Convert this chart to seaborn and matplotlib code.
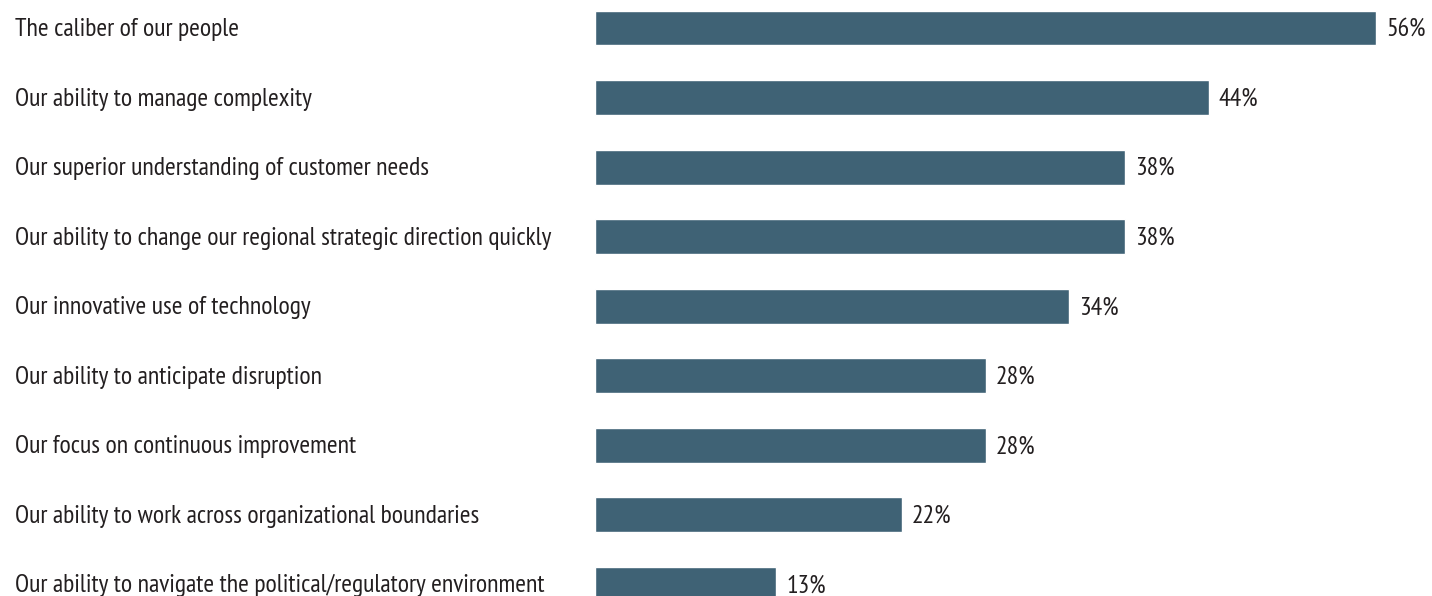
import matplotlib
matplotlib.use("Agg")
import matplotlib.pyplot as plt
import seaborn as sns
import pandas as pd

categories = [
    "The caliber of our people",
    "Our ability to manage complexity",
    "Our superior understanding of customer needs",
    "Our ability to change our regional strategic direction quickly",
    "Our innovative use of technology",
    "Our ability to anticipate disruption",
    "Our focus on continuous improvement",
    "Our ability to work across organizational boundaries",
    "Our ability to navigate the political/regulatory environment",
]
values = [56, 44, 38, 38, 34, 28, 28, 22, 13]

sns.set_theme(style="white")
plt.rcParams["font.family"] = ["PT Sans Narrow", "DejaVu Sans"]

df = pd.DataFrame({"category": categories, "value": values})

W, H = 1432, 596
fig = plt.figure(figsize=(W / 100, H / 100), dpi=100)
ax = fig.add_axes([595 / W, 0, 1 - 595 / W, 1])

bar_color = "#3f6275"
text_color = "#231f20"
fsize = 18.5
baseline_shift = 0.115  # baseline sits a little below each bar's centre

sns.barplot(data=df, x="value", y="category", orient="h", color=bar_color,
            width=0.503, saturation=1, ax=ax)

ax.set_xlim(0, 60)
ax.set_ylim(8.166, -0.4025)
ax.set_axis_off()

for i, (cat, v) in enumerate(zip(categories, values)):
    ax.text(v + 0.72, i + baseline_shift, f"{v}%", va="baseline", ha="left",
            fontsize=fsize, color=text_color)
    ax.annotate(cat, xy=(15 / W, i + baseline_shift),
                xycoords=("figure fraction", "data"),
                va="baseline", ha="left", fontsize=fsize, color=text_color)

fig.savefig("out.png", dpi=100)
